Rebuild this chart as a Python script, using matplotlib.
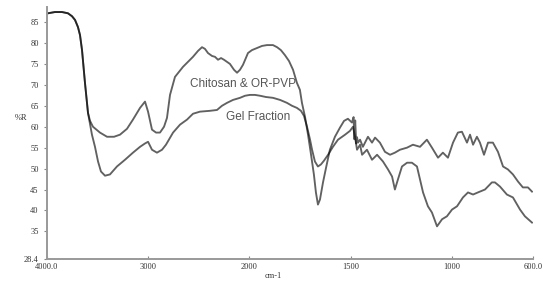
import numpy as np
import matplotlib
matplotlib.use("Agg")
import matplotlib.pyplot as plt

# wavenumbers (cm-1) and %R
chitosan_wn = [3990, 3921, 3852, 3793, 3753, 3723, 3694, 3674, 3654, 3625, 3595,
               3575, 3546, 3477, 3407, 3338, 3279, 3210, 3151, 3081, 3032, 3002,
               2963, 2923, 2884, 2844, 2815, 2785, 2736, 2657, 2558, 2509, 2469,
               2440, 2410, 2370, 2341, 2311, 2281, 2252, 2193, 2153, 2123, 2094,
               2064, 2015, 1988, 1963, 1938, 1914, 1884, 1864, 1845, 1825, 1805,
               1785, 1766, 1751, 1741, 1726, 1711, 1696, 1682, 1672, 1662, 1652,
               1637, 1622, 1603, 1578, 1553, 1533, 1514, 1494, 1486, 1482, 1478,
               1473, 1469, 1464, 1454, 1440, 1415, 1395, 1380, 1356, 1331, 1306,
               1282, 1257, 1222, 1193, 1158, 1124, 1099, 1069, 1045, 1020, 995,
               971, 951, 926, 911, 896, 877, 862, 842, 822, 798, 773, 748, 724,
               699, 674, 650, 625, 605]
chitosan_r = [87.1, 87.4, 87.4, 87.1, 86.4, 85.5, 83.8, 81.9, 78.3, 70.5, 63.3,
              61.4, 60.0, 58.6, 57.6, 57.6, 58.1, 59.5, 61.7, 64.5, 66.0, 63.6,
              59.3, 58.6, 58.6, 60.0, 62.1, 67.6, 71.9, 74.3, 76.7, 78.1, 79.0,
              78.6, 77.6, 76.9, 76.7, 76.0, 76.4, 76.0, 75.0, 73.6, 72.9, 73.6,
              74.8, 77.6, 78.3, 78.8, 79.3, 79.5, 79.5, 79.0, 78.3, 77.1, 75.7,
              73.6, 70.5, 68.8, 65.7, 62.4, 58.1, 53.3, 48.6, 44.3, 41.4, 42.6,
              46.7, 50.2, 54.5, 57.6, 59.8, 61.4, 61.9, 61.0, 62.3, 57.0, 61.5,
              56.0, 57.5, 56.2, 56.9, 55.2, 57.6, 56.2, 57.4, 56.2, 54.0, 53.3,
              53.8, 54.5, 55.0, 55.7, 55.2, 56.9, 55.0, 52.6, 53.8, 52.6, 56.2,
              58.6, 58.8, 56.2, 58.1, 55.7, 57.6, 56.2, 53.3, 56.2, 56.2, 54.0,
              50.5, 49.8, 48.6, 46.9, 45.5, 45.5, 44.5]

gel_wn = [3990, 3921, 3852, 3793, 3753, 3723, 3694, 3674, 3654, 3625, 3595,
          3556, 3526, 3496, 3467, 3427, 3378, 3309, 3230, 3151, 3081, 3032,
          3002, 2963, 2914, 2864, 2825, 2755, 2686, 2617, 2558, 2489, 2390,
          2321, 2272, 2222, 2163, 2094, 2044, 1998, 1973, 1948, 1919, 1884,
          1849, 1815, 1790, 1766, 1746, 1731, 1716, 1701, 1691, 1677, 1662,
          1647, 1632, 1612, 1588, 1563, 1528, 1504, 1489, 1479, 1469, 1454,
          1444, 1420, 1395, 1370, 1341, 1316, 1296, 1282, 1267, 1247, 1222,
          1198, 1173, 1158, 1143, 1119, 1099, 1074, 1049, 1025, 1000, 975,
          946, 921, 896, 872, 837, 803, 788, 763, 729, 699, 664, 640, 605]
gel_r = [87.1, 87.4, 87.4, 87.1, 86.4, 85.5, 83.8, 81.9, 78.3, 70.5, 63.3,
         58.1, 55.2, 51.7, 49.3, 48.3, 48.6, 50.5, 52.1, 53.8, 55.2, 56.0,
         56.4, 54.5, 53.8, 54.5, 55.7, 58.6, 60.5, 61.7, 63.1, 63.6, 63.8,
         64.0, 65.0, 65.7, 66.4, 66.9, 67.4, 67.6, 67.6, 67.4, 67.1, 66.9,
         66.4, 65.7, 65.0, 64.5, 63.8, 62.6, 60.0, 56.9, 54.5, 51.7, 50.5,
         51.0, 51.9, 53.3, 55.2, 56.9, 58.1, 59.0, 60.0, 57.6, 54.5, 55.7,
         53.3, 54.5, 52.1, 53.3, 51.7, 49.8, 48.1, 45.0, 47.4, 50.5, 51.4,
         51.4, 50.5, 47.4, 44.3, 41.0, 39.5, 36.2, 37.9, 38.6, 40.2, 41.0,
         43.1, 44.3, 43.8, 44.3, 45.0, 46.7, 46.7, 45.7, 43.8, 43.1, 40.2,
         38.6, 37.1]

x_ticks = [4000, 3000, 2000, 1500, 1000, 600]
x_tick_labels = ['4000.0', '3000', '2000', '1500', '1000', '600.0']
y_ticks = [28.4, 35, 40, 45, 50, 55, 60, 65, 70, 75, 80, 85]
y_tick_labels = ['28.4', '35', '40', '45', '50', '55', '60', '65', '70', '75', '80', '85']


# above 2000 cm-1 the axis runs at half scale
def fwd(x):
    x = np.asarray(x, dtype=float)
    return np.where(x > 2000, 2000 + (x - 2000) / 2, x)


def inv(c):
    c = np.asarray(c, dtype=float)
    return np.where(c > 2000, 2000 + (c - 2000) * 2, c)


fig = plt.figure(figsize=(5.42, 2.87), dpi=100)
ax = fig.add_axes([0.0867, 0.0976, 0.8967, 0.878])
ax.set_xscale('function', functions=(fwd, inv))

ax.plot(chitosan_wn, chitosan_r, color='k', alpha=0.62, lw=1.35)
ax.plot(gel_wn, gel_r, color='k', alpha=0.62, lw=1.35)

ax.set_xlim(4000, 600)
ax.set_ylim(28.4, 88.6)

ax.set_xticks(x_ticks)
ax.set_xticklabels(x_tick_labels)
ax.set_yticks(y_ticks)
ax.set_yticklabels(y_tick_labels)
ax.minorticks_off()

for lab in ax.get_xticklabels() + ax.get_yticklabels():
    lab.set_family('Liberation Serif')
    lab.set_fontsize(6)
    lab.set_color('#333333')

ax.tick_params(axis='x', direction='in', length=2, width=0.8, color='#888888', pad=3)
ax.tick_params(axis='y', direction='out', length=2, width=0.8, color='#888888', pad=4)

for s in ['top', 'right']:
    ax.spines[s].set_visible(False)
for s in ['left', 'bottom']:
    ax.spines[s].set_color('#999999')
    ax.spines[s].set_linewidth(1.4)

fig.text(15 / 542, 1 - 118 / 287, '%R', fontsize=6, family='Liberation Serif',
         color='#333333', ha='left', va='center')
fig.text(273 / 542, 1 - 276 / 287, 'cm-1', fontsize=6, family='Liberation Serif',
         color='#333333', ha='center', va='center')

ax.text(2064, 70.2, 'Chitosan & OR-PVP', fontsize=8.5, family='Liberation Sans',
        color='#555555', ha='center', va='center')
ax.text(1958, 62.4, 'Gel Fraction', fontsize=8.5, family='Liberation Sans',
        color='#555555', ha='center', va='center')

fig.savefig('out.png', dpi=100)
